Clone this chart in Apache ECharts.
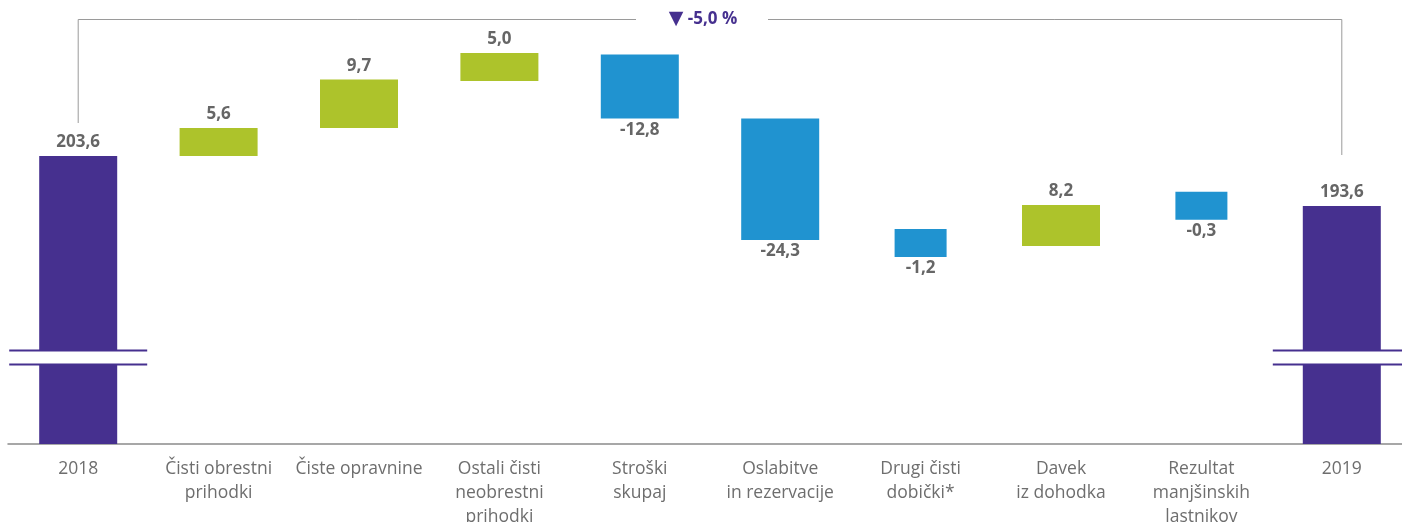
<!DOCTYPE html>
<html>
<head>
<meta charset="utf-8">
<script src="https://cdn.jsdelivr.net/npm/echarts@6/dist/echarts.min.js"></script>
<style>
  html, body { margin: 0; padding: 0; background: #fff; }
  #chart { width: 1402px; height: 522px; }
</style>
</head>
<body>
<div id="chart"></div>
<script>
var categories = ['2018', 'Čisti obrestni\nprihodki', 'Čiste opravnine', 'Ostali čisti\nneobrestni\nprihodki',
  'Stroški\nskupaj', 'Oslabitve\nin rezervacije', 'Drugi čisti\ndobički*', 'Davek\niz dohodka',
  'Rezultat\nmanjšinskih\nlastnikov', '2019'];
var startTotal = 203.6;
var endTotal = 193.6;
var changes = [5.6, 9.7, 5.0, -12.8, -24.3, -1.2, 8.2, -0.3];
var totalChange = '-5,0 %';

var purple = '#46308f', green = '#adc32b', blue = '#2093d0', grey = '#666';
var axisMin = 146, axisMax = 226;   // truncated axis, break marks drawn on the total bars
var minShown = 5.6;                 // tiny changes are drawn at this height, narrower
var breakAt = 163.3;

function fmt(v) { return v.toFixed(1).replace('.', ','); }

var wideBase = [], wideBar = [], narrowBase = [], narrowBar = [];

function addBar(lo, hi, color, pos, text, narrow) {
  var item = {
    value: hi - lo,
    itemStyle: { color: color },
    label: { position: pos, formatter: text, distance: pos == 'top' ? 5 : 3 }
  };
  if (narrow) {
    narrowBase.push(lo); narrowBar.push(item); wideBase.push('-'); wideBar.push('-');
  } else {
    wideBase.push(lo); wideBar.push(item); narrowBase.push('-'); narrowBar.push('-');
  }
}

addBar(0, startTotal, purple, 'top', fmt(startTotal), false);
var running = startTotal;
changes.forEach(function (c) {
  var lo = Math.min(running, running + c), hi = Math.max(running, running + c);
  var small = Math.abs(c) < 2;
  if (hi - lo < minShown) {
    var mid = (lo + hi) / 2;
    lo = mid - minShown / 2; hi = mid + minShown / 2;
  }
  addBar(lo, hi, c > 0 ? green : blue, c > 0 ? 'top' : 'bottom', fmt(c), small);
  running += c;
});
addBar(0, endTotal, purple, 'top', fmt(endTotal), false);

var labelStyle = { show: true, color: grey, fontFamily: 'Open Sans', fontWeight: 'bold', fontSize: 17 };

var chart = echarts.init(document.getElementById('chart'));
chart.setOption({
  animation: false,
  grid: { left: 8, width: 1404, top: 44, bottom: 78, outerBoundsMode: 'none', containLabel: false },
  xAxis: [{
    type: 'category',
    data: categories,
    axisLine: { lineStyle: { color: '#8a8a8a', width: 1.5 } },
    axisTick: { show: false },
    axisLabel: { interval: 0, color: '#6e6e6e', fontFamily: 'Open Sans', fontSize: 17.5, lineHeight: 24, margin: 13 }
  }, {
    type: 'category', data: categories, show: false
  }],
  yAxis: { type: 'value', min: axisMin, max: axisMax, show: false, splitLine: { show: false } },
  series: [
    { type: 'bar', stack: 'w', data: wideBase, barWidth: 78, itemStyle: { color: 'transparent' }, silent: true },
    { type: 'bar', stack: 'w', data: wideBar, barWidth: 78, label: labelStyle },
    { type: 'bar', stack: 'n', xAxisIndex: 1, data: narrowBase, barWidth: 52, itemStyle: { color: 'transparent' }, silent: true },
    { type: 'bar', stack: 'n', xAxisIndex: 1, data: narrowBar, barWidth: 52, label: labelStyle }
  ]
});

// bracket over the chart and the axis break marks
var pL = chart.convertToPixel({ xAxisIndex: 0, yAxisIndex: 0 }, [0, startTotal]);
var pR = chart.convertToPixel({ xAxisIndex: 0, yAxisIndex: 0 }, [categories.length - 1, endTotal]);
var bracketY = 19.5;
var mid = (pL[0] + pR[0]) / 2 - 7;
var graphics = [
  { type: 'polyline', z: 100, shape: { points: [[pL[0], pL[1] - 33], [pL[0], bracketY], [mid - 67, bracketY]] },
    style: { stroke: '#9a9a9a', lineWidth: 1, fill: null } },
  { type: 'polyline', z: 100, shape: { points: [[mid + 65, bracketY], [pR[0], bracketY], [pR[0], pR[1] - 51]] },
    style: { stroke: '#9a9a9a', lineWidth: 1, fill: null } },
  { type: 'text', z: 100, x: mid, y: bracketY, style: {
    text: '{t|▼} ' + totalChange, fill: purple, font: 'bold 17px "Open Sans"',
    rich: { t: { fontSize: 19, fontFamily: 'DejaVu Sans', fill: purple } },
    align: 'center', verticalAlign: 'middle' } }
];
[pL[0], pR[0]].forEach(function (x) {
  var yb = chart.convertToPixel({ yAxisIndex: 0 }, breakAt);
  graphics.push({ type: 'rect', z: 100, shape: { x: x - 42, y: yb - 7, width: 84, height: 14 }, style: { fill: '#fff' } });
  graphics.push({ type: 'line', z: 101, shape: { x1: x - 69, y1: yb - 7, x2: x + 69, y2: yb - 7 }, style: { stroke: purple, lineWidth: 2 } });
  graphics.push({ type: 'line', z: 101, shape: { x1: x - 69, y1: yb + 7, x2: x + 69, y2: yb + 7 }, style: { stroke: purple, lineWidth: 2 } });
});
chart.setOption({ graphic: graphics });
</script>
</body>
</html>
